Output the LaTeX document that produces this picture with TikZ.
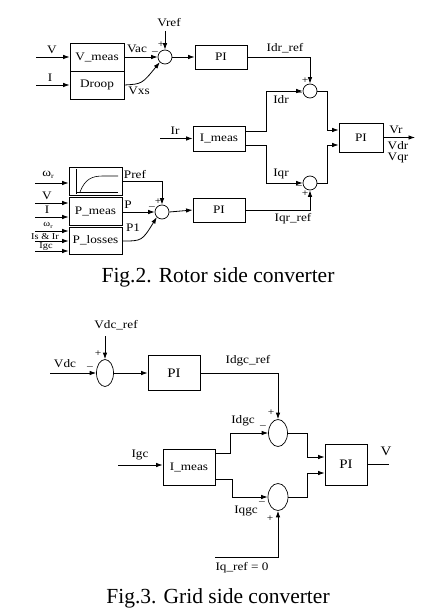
\documentclass[tikz,border=0pt]{standalone}
\usepackage{fontspec}
\setmainfont{Liberation Serif}
\newfontfamily\lblfont{Liberation Serif}[FakeStretch=1.15]
\usetikzlibrary{arrows.meta,shapes.geometric}
\begin{document}
\begin{tikzpicture}[x=1pt,y=-1pt,
  every node/.style={inner sep=0pt,font=\lblfont\fontsize{11.5}{12}\selectfont},
  blk/.style={draw,line width=0.8pt},
  sumc/.style={draw,circle,line width=0.7pt,minimum size=14pt},
  sume/.style={draw,ellipse,line width=0.7pt,minimum width=19pt,minimum height=27pt},
  wire/.style={line width=0.8pt},
  arr/.style={wire,-{Latex[length=6.5pt,width=4.5pt]}},
  sgn/.style={font=\lblfont\fontsize{10}{10}\selectfont},
  small/.style={font=\lblfont\fontsize{9}{9}\selectfont},
  bigpi/.style={font=\lblfont\fontsize{13}{13}\selectfont},
  figcap/.style={font=\fontsize{21.5}{24}\selectfont}]
\useasboundingbox (0,0) rectangle (426,612);
\fill[white] (0,0) rectangle (426,612);

% ---------------- Fig.2 ----------------
\node[blk,minimum width=54pt,minimum height=28pt] (vmeas) at (97,57) {V\_meas};
\node[blk,minimum width=54pt,minimum height=28pt] (droop) at (97,85) {Droop};
\coordinate (vin) at (36,57);
\coordinate (iin) at (36,85);
\draw[arr] (vin) -- (vmeas.west);
\draw[arr] (iin) -- (droop.west);
\node (lV) at (52,50) {V};
\node (lI) at (50,78) {I};

\node[sumc] (s1) at (165,57) {};
\coordinate (vref) at (165,31);
\node (lvref) at (169,23) {Vref};
\draw[arr] (vref) -- (s1.north);
\draw[arr] (vmeas.east) -- (s1.west);
\node (lvac) at (137,49) {Vac};
\draw[arr] (droop.east) .. controls (142,84) .. (s1.south west);
\node (lvxs) at (139,91) {Vxs};
\node[sgn] (m1) at (155,53) {–};
\node[sgn] (p1) at (161,45) {+};

\node[blk,minimum width=52pt,minimum height=24pt] (pi1) at (221,57) {PI};
\draw[arr] (s1.east) -- (pi1.west);

\node[sumc] (s2) at (310,91) {};
\draw[arr] (pi1.east) -| (s2.north);
\node (lidrref) at (285,48) {Idr\_ref};
\node[sgn] (p2) at (305,81) {+};
\node[sgn] (m2) at (299,94) {–};

\node[blk,minimum width=52pt,minimum height=25pt] (imeas) at (219,138.5) {I\_meas};
\coordinate (irin) at (160,138.5);
\draw[arr] (irin) -- (imeas.west);
\node (lir) at (175,131) {Ir};
\draw[arr] (imeas.east |- 0,131) -- (266,131) -- (266,91) -- (s2.west);
\node (lidr) at (281,100) {Idr};

\node[sumc] (s3) at (310,183) {};
\draw[arr] (imeas.east |- 0,145) -- (266,145) -- (266,183) -- (s3.west);
\node (liqr) at (281,174) {Iqr};
\node[sgn] (m3) at (299,187) {–};
\node[sgn] (p3) at (305,194) {+};

\node[blk,minimum width=52pt,minimum height=24pt] (pi2) at (219,210) {PI};
\draw[arr] (pi2.east) -| (s3.south);
\node (liqrref) at (293,219) {Iqr\_ref};

\node[blk,minimum width=44pt,minimum height=29pt] (pi3) at (361,137.5) {PI};
\draw[arr] (s2.east) -- (327,91) -- (327,130) -- (pi3.west |- 0,130);
\draw[arr] (s3.east) -- (327,183) -- (327,145) -- (pi3.west |- 0,145);
\coordinate (vrout) at (415,137.5);
\draw[arr] (pi3.east) -- (vrout);
\node (lvr) at (396,130) {Vr};
\node (lvdr) at (398,146) {Vdr};
\node (lvqr) at (398,158) {Vqr};

% power loop
\node[blk,minimum width=53pt,minimum height=28pt] (pref) at (95.5,181) {};
\draw[wire,line width=0.6pt] (76,169) -- (76,194);
\draw[wire,line width=0.6pt] (76,192) -- (118,192);
\draw[wire,line width=0.6pt] (80,192) .. controls (85,179) and (92,176) .. (103,176) -- (118,176);
\node[blk,minimum width=53pt,minimum height=28pt] (pmeas) at (95.5,211) {P\_meas};
\node[blk,minimum width=53pt,minimum height=27pt] (plos) at (95.5,240.5) {P\_losses};

\draw[arr] (35,183) -- (pref.west |- 0,183);
\node (lw1) at (48,175) {ω\raisebox{-2pt}{\fontsize{7}{7}\selectfont r}};
\draw[arr] (35,203) -- (pmeas.west |- 0,203);
\node (lV2) at (47,196) {V};
\draw[arr] (35,217) -- (pmeas.west |- 0,217);
\node (lI2) at (47,210) {I};
\draw[arr] (35,231) -- (plos.west |- 0,231);
\draw[arr] (35,241) -- (plos.west |- 0,241);
\draw[arr] (35,251) -- (plos.west |- 0,251);
\node[small] (lw2) at (48,225) {ω\raisebox{-2pt}{\fontsize{6}{6}\selectfont r}};
\node[small] (lisir) at (45,237) {Is \& Ir};
\node[small] (ligc1) at (46,247) {Igc};

\node[sumc] (s4) at (162,212) {};
\draw[arr] (pref.east |- 0,181) -| (s4.north);
\node (lpref) at (135,175) {Pref};
\draw[arr] (pmeas.east |- 0,212) -- (s4.west);
\node (lp) at (128,205) {P};
\draw[arr] (plos.east |- 0,241) .. controls (142,241) .. (s4.south west);
\node (lp1) at (133,228) {P1};
\node[sgn] (m4) at (152,208) {–};
\node[sgn] (p4) at (158,202) {+};
\draw[arr] (s4.east) -- (pi2.west);

\node[figcap] (cap2) at (218,277) {Fig.2. Rotor side converter};

% ---------------- Fig.3 ----------------
\node[sume,minimum width=17pt] (e1) at (105,373) {};
\coordinate (vdcref) at (105,336);
\draw[arr] (vdcref) -- (e1.north);
\node (lvdcref) at (116,325) {Vdc\_ref};
\coordinate (vdcin) at (50,373);
\draw[arr] (vdcin) -- (e1.west);
\node (lvdc) at (65,364) {Vdc};
\node[sgn] (m5) at (90,368) {–};
\node[sgn] (p5) at (98,354) {+};

\node[blk,bigpi,minimum width=52pt,minimum height=35pt] (pi5) at (174,373) {PI};
\draw[arr] (e1.east) -- (pi5.west);

\node[sume] (e2) at (278,433) {};
\draw[arr] (pi5.east) -| (e2.north);
\node (lidgcref) at (248,361) {Idgc\_ref};
\node[sgn] (p6) at (271,413) {+};
\node[sgn] (m6) at (263,427) {–};

\node[blk,minimum width=52pt,minimum height=36pt] (imeas2) at (189,467) {I\_meas};
\coordinate (igcin) at (118,465);
\draw[arr] (igcin) -- (imeas2.west |- igcin);
\node (ligc) at (140,455) {Igc};
\draw[arr] (imeas2.east |- 0,453) -- (230,453) -- (230,433) -- (e2.west);
\node (lidgc) at (243,421) {Idgc};

\node[sume,minimum width=20pt] (e3) at (278,497) {};
\draw[arr] (imeas2.east |- 0,479) -- (232,479) -- (232,497) -- (e3.west);
\node (liqgc) at (246,511) {Iqgc};
\node[sgn] (m7) at (262,503) {–};
\node[sgn] (p7) at (270,519) {+};
\coordinate (iqref) at (215,557);
\draw[arr] (iqref) -| (e3.south);
\node (liqref) at (242,568) {Iq\_ref = 0};

\node[blk,bigpi,minimum width=42pt,minimum height=41pt] (pi6) at (346,464.5) {PI};
\draw[arr] (e2.east) -- (307,433) -- (307,457) -- (pi6.west |- 0,457);
\draw[arr] (e3.east) -- (307,497) -- (307,473) -- (pi6.west |- 0,473);
\coordinate (vout) at (389,464.5);
\draw[wire] (pi6.east) -- (vout);
\node[bigpi] (lvout) at (386,451) {V};

\node[figcap] (cap3) at (218,598) {Fig.3. Grid side converter};
\end{tikzpicture}
\end{document}
